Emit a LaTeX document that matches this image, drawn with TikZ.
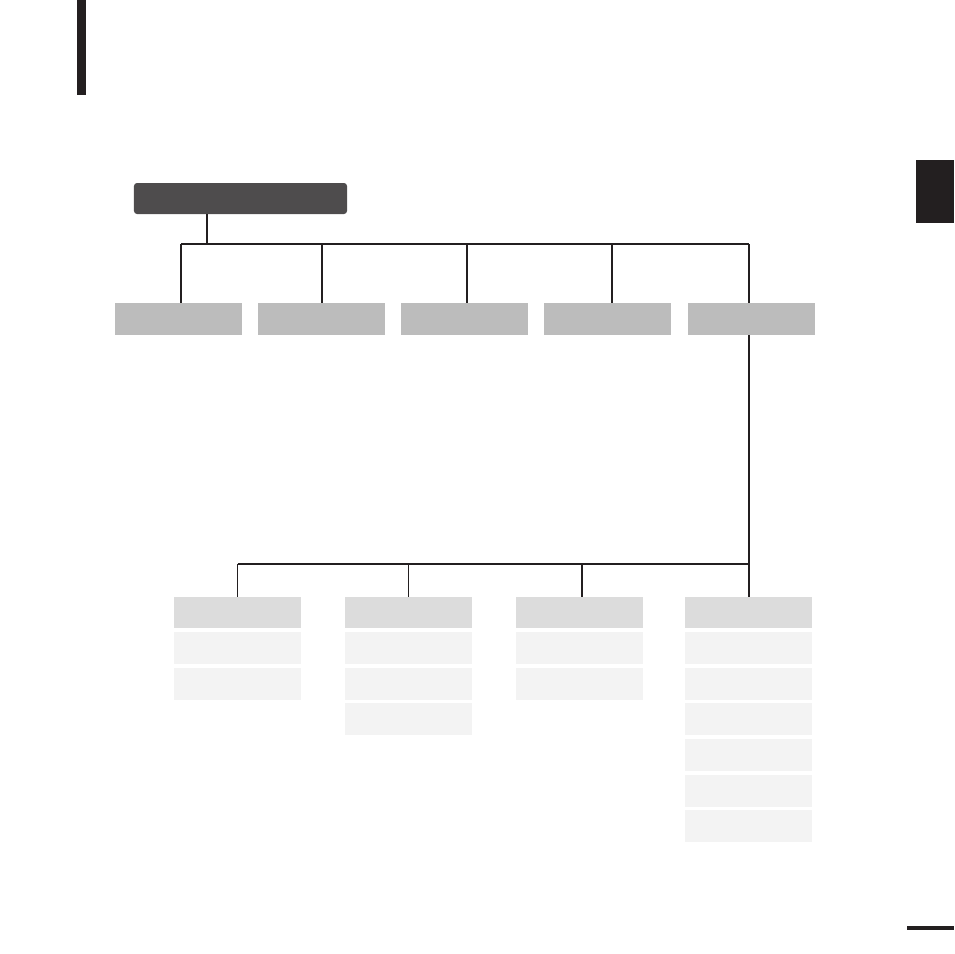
\documentclass[tikz,border=0pt]{standalone}
\usetikzlibrary{positioning}
\definecolor{inkline}{HTML}{231F20}
\definecolor{rootgray}{HTML}{4E4C4D}
\definecolor{menugray}{HTML}{BCBCBC}
\definecolor{headgray}{HTML}{DCDCDC}
\definecolor{itemgray}{HTML}{F3F3F3}
\begin{document}
\begin{tikzpicture}[x=0.03cm,y=-0.03cm,node distance=0.11cm,
    rootbox/.style={fill=rootgray, rounded corners=0.09cm, minimum width=6.39cm, minimum height=0.93cm, inner sep=0pt, outer sep=0pt},
    menubox/.style={fill=menugray, minimum width=3.81cm, minimum height=0.96cm, inner sep=0pt, outer sep=0pt},
    headbox/.style={fill=headgray, minimum width=3.81cm, minimum height=0.95cm, inner sep=0pt, outer sep=0pt},
    itembox/.style={fill=itemgray, minimum width=3.81cm, minimum height=0.96cm, inner sep=0pt, outer sep=0pt},
    thickwire/.style={draw=inkline, line width=1.8pt},
    thinwire/.style={draw=inkline, line width=1pt}]
            \useasboundingbox (0,0) rectangle (954,954);
            % page marks
            \fill[inkline] (77,0) rectangle (86,95);
            \fill[inkline] (916,160) rectangle (954,223);
            \fill[inkline] (907,926) rectangle (954,930);

            % top level
            \node[rootbox] (root) at (240.5,198.5) {};
            \node[menubox] (menuA) at (178.5,319) {};
            \node[menubox] (menuB) at (321.5,319) {};
            \node[menubox] (menuC) at (464.5,319) {};
            \node[menubox] (menuD) at (607.5,319) {};
            \node[menubox] (menuE) at (751,319) {};

            \coordinate (busA) at (181,244);
            \coordinate (busB) at (322,244);
            \coordinate (busC) at (467,244);
            \coordinate (busD) at (612,244);
            \coordinate (busE) at (749,244);

            \draw[thickwire] (root.south -| 207,0) -- (207,244);
            \draw[thickwire] (busA) -- (busE);
            \draw[thickwire] (busA) -- (busA |- menuA.north);
            \draw[thinwire] (busB) -- (busB |- menuB.north);
            \draw[thickwire] (busC) -- (busC |- menuC.north);
            \draw[thinwire] (busD) -- (busD |- menuD.north);
            \draw[thinwire] (busE) -- (busE |- menuE.north);

            % sub menus of the last item
            \node[headbox] (headA) at (237.5,612.5) {};
            \node[itembox, below=of headA] (itemA1) {};
            \node[itembox, below=of itemA1] (itemA2) {};

            \node[headbox] (headB) at (408.5,612.5) {};
            \node[itembox, below=of headB] (itemB1) {};
            \node[itembox, below=of itemB1] (itemB2) {};
            \node[itembox, below=of itemB2] (itemB3) {};

            \node[headbox] (headC) at (579.5,612.5) {};
            \node[itembox, below=of headC] (itemC1) {};
            \node[itembox, below=of itemC1] (itemC2) {};

            \node[headbox] (headD) at (748.5,612.5) {};
            \node[itembox, below=of headD] (itemD1) {};
            \node[itembox, below=of itemD1] (itemD2) {};
            \node[itembox, below=of itemD2] (itemD3) {};
            \node[itembox, below=of itemD3] (itemD4) {};
            \node[itembox, below=of itemD4] (itemD5) {};
            \node[itembox, below=of itemD5] (itemD6) {};

            \coordinate (lowA) at (237.5,564);
            \coordinate (lowB) at (408.5,564);
            \coordinate (lowC) at (582,564);
            \coordinate (lowD) at (749,564);

            \draw[thinwire] (menuE.south -| lowD) -- (lowD);
            \draw[thinwire] (lowA) -- (lowD);
            \draw[thinwire] (lowA) -- (lowA |- headA.north);
            \draw[thinwire] (lowB) -- (lowB |- headB.north);
            \draw[thinwire] (lowC) -- (lowC |- headC.north);
            \draw[thinwire] (lowD) -- (lowD |- headD.north);
        \end{tikzpicture}
\end{document}
